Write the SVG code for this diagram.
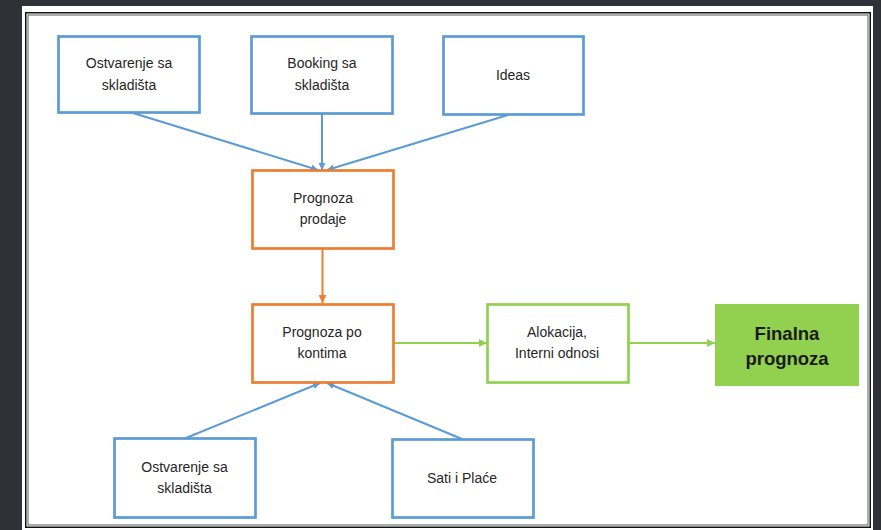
<svg xmlns="http://www.w3.org/2000/svg" width="881" height="530" viewBox="0 0 881 530">
  <defs>
    <marker id="arrow-blue" viewBox="0 0 10 10" refX="10" refY="5" markerWidth="7" markerHeight="7" markerUnits="userSpaceOnUse" orient="auto">
      <path d="M0,0 L10,5 L0,10 z" fill="#5b9bd5"/>
    </marker>
    <marker id="arrow-orange" viewBox="0 0 10 10" refX="10" refY="5" markerWidth="8" markerHeight="8" markerUnits="userSpaceOnUse" orient="auto">
      <path d="M0,0 L10,5 L0,10 z" fill="#ed7d31"/>
    </marker>
    <marker id="arrow-green" viewBox="0 0 10 10" refX="10" refY="5" markerWidth="8" markerHeight="8" markerUnits="userSpaceOnUse" orient="auto">
      <path d="M0,0 L10,5 L0,10 z" fill="#92d050"/>
    </marker>
  </defs>
  <style>
    .box-blue { fill: #ffffff; stroke: #5b9bd5; stroke-width: 2.7; }
    .box-orange { fill: #ffffff; stroke: #ed7d31; stroke-width: 2.7; }
    .box-green { fill: #ffffff; stroke: #92d050; stroke-width: 2.7; }
    .box-final { fill: #92d050; stroke: none; }
    .label { font-family: "Liberation Sans", Arial, sans-serif; font-size: 14px; fill: #262626; text-anchor: middle; }
    .label-bold { font-family: "Liberation Sans", Arial, sans-serif; font-size: 18.5px; font-weight: bold; fill: #1a1a1a; text-anchor: middle; }
    .conn-blue { stroke: #5b9bd5; stroke-width: 2; fill: none; marker-end: url(#arrow-blue); }
    .conn-orange { stroke: #ed7d31; stroke-width: 2; fill: none; marker-end: url(#arrow-orange); }
    .conn-green { stroke: #92d050; stroke-width: 2; fill: none; marker-end: url(#arrow-green); }
  </style>

  <!-- backdrop and framed page -->
  <rect x="0" y="0" width="881" height="530" fill="#2f3136"/>
  <rect x="22" y="6" width="851" height="524" fill="#ffffff"/>
  <rect x="25.75" y="12.75" width="844.5" height="514.5" fill="none" stroke="#111111" stroke-width="1.5"/>
  <rect x="28" y="15" width="840" height="510" fill="none" stroke="#333333" stroke-width="0.8"/>

  <!-- connectors -->
  <g id="connectors">
    <line class="conn-blue" x1="133" y1="113" x2="318" y2="170"/>
    <line class="conn-blue" x1="322" y1="114" x2="322" y2="170"/>
    <line class="conn-blue" x1="508" y1="115" x2="327" y2="170"/>
    <line class="conn-orange" x1="322.5" y1="249" x2="322.5" y2="303"/>
    <line class="conn-green" x1="394" y1="343" x2="487" y2="343"/>
    <line class="conn-green" x1="629" y1="343" x2="715" y2="343"/>
    <line class="conn-blue" x1="186" y1="438" x2="320" y2="383"/>
    <line class="conn-blue" x1="462" y1="439" x2="327" y2="383"/>
  </g>

  <!-- top row sources -->
  <g id="ostvarenje-top">
    <rect class="box-blue" x="58.5" y="36.5" width="141" height="76"/>
    <text class="label" x="129" y="68">Ostvarenje sa</text>
    <text class="label" x="129" y="90">skladišta</text>
  </g>
  <g id="booking">
    <rect class="box-blue" x="251.5" y="36.5" width="141" height="77"/>
    <text class="label" x="322" y="68">Booking sa</text>
    <text class="label" x="322" y="90">skladišta</text>
  </g>
  <g id="ideas">
    <rect class="box-blue" x="443.5" y="36.5" width="140" height="78"/>
    <text class="label" x="513" y="80">Ideas</text>
  </g>

  <!-- forecast chain -->
  <g id="prognoza-prodaje">
    <rect class="box-orange" x="252.5" y="170.5" width="141" height="78"/>
    <text class="label" x="323" y="203">Prognoza</text>
    <text class="label" x="323" y="224">prodaje</text>
  </g>
  <g id="prognoza-po-kontima">
    <rect class="box-orange" x="252.5" y="304.5" width="141" height="78"/>
    <text class="label" x="322" y="337">Prognoza po</text>
    <text class="label" x="322" y="358">kontima</text>
  </g>
  <g id="alokacija">
    <rect class="box-green" x="487.5" y="304.5" width="141" height="78"/>
    <text class="label" x="557" y="337">Alokacija,</text>
    <text class="label" x="557" y="358">Interni odnosi</text>
  </g>
  <g id="finalna-prognoza">
    <rect class="box-final" x="715" y="304" width="144" height="82"/>
    <text class="label-bold" x="787" y="340">Finalna</text>
    <text class="label-bold" x="787" y="365">prognoza</text>
  </g>

  <!-- bottom row sources -->
  <g id="ostvarenje-bottom">
    <rect class="box-blue" x="114.5" y="438.5" width="141" height="79"/>
    <text class="label" x="184.5" y="472">Ostvarenje sa</text>
    <text class="label" x="184.5" y="493">skladišta</text>
  </g>
  <g id="sati-i-place">
    <rect class="box-blue" x="392.5" y="439.5" width="141" height="78"/>
    <text class="label" x="462" y="483">Sati i Plaće</text>
  </g>
</svg>
